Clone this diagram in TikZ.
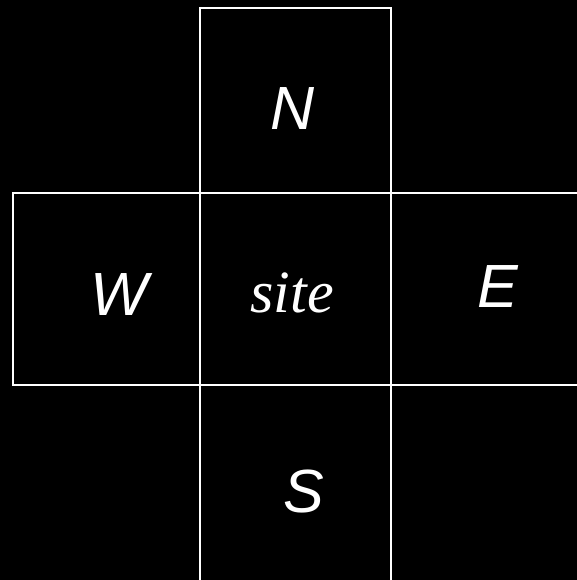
\documentclass[tikz,border=0pt]{standalone}
\usepackage{fontspec}
\setmainfont{Liberation Serif}
\newfontfamily\dirfont{Liberation Sans}
\usepackage{tikz}

\tikzset{
    dirlabel/.style={text=white,anchor=base,inner sep=0pt,
        font=\dirfont\itshape\fontsize{61}{61}\selectfont},
    sitelabel/.style={text=white,anchor=base,inner sep=0pt,
        font=\itshape\fontsize{60}{60}\selectfont},
    cell/.style={draw=white,line width=1.6pt}
}

\begin{document}
\begin{tikzpicture}[x=1pt,y=-1pt]
            \fill[black] (0,0) rectangle (577,580);
            \useasboundingbox (0,0) rectangle (577,580);

            \begin{scope}
                \clip (0,0) rectangle (577,580);

                % the centre cell and its four neighbours
                \draw[cell] (200,193) rectangle (391,385);
                \draw[cell] (200,8) rectangle (391,193);
                \draw[cell] (13,193) rectangle (200,385);
                \draw[cell] (391,193) rectangle (590,385);
                \draw[cell] (200,385) rectangle (391,595);
            \end{scope}

            \node[sitelabel] (site) at (292,312) {site};
            \node[dirlabel] (north) at (293,130) {N};
            \node[dirlabel] (west) at (119,315) {W};
            \node[dirlabel] (east) at (498,307) {E};
            \node[dirlabel] (south) at (304,512) {S};
        \end{tikzpicture}
\end{document}
